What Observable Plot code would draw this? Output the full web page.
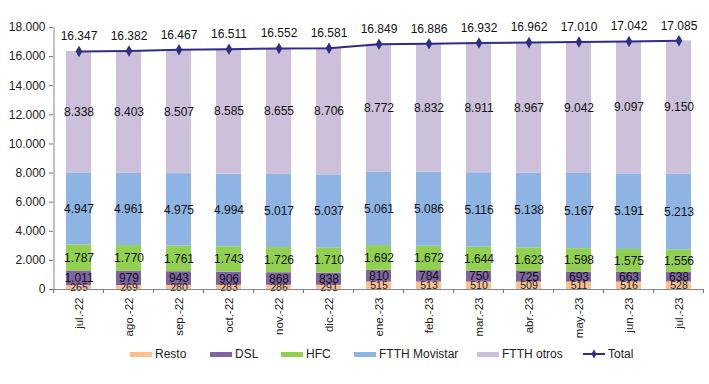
<!DOCTYPE html>
<html><head><meta charset="utf-8">
<script src="https://cdn.jsdelivr.net/npm/d3@7"></script>
<script src="https://cdn.jsdelivr.net/npm/@observablehq/plot@0.6"></script>
<style>
body{margin:0;background:#fff;font-family:"Liberation Sans",Arial,sans-serif;}
#legend{position:relative;font-size:12px;color:#222;height:18px;}
.item{position:absolute;top:0;display:flex;align-items:center;white-space:nowrap;height:18px;}
.sw{display:inline-block;width:22px;height:5px;margin-right:3px;}
</style></head>
<body>
<div id="chart"></div>
<div id="legend"></div>
<script>
const months = ["jul.-22","ago.-22","sep.-22","oct.-22","nov.-22","dic.-22","ene.-23","feb.-23","mar.-23","abr.-23","may.-23","jun.-23","jul.-23"];
const seriesNames = ["Resto","DSL","HFC","FTTH Movistar","FTTH otros"];
const resto = [265,269,280,283,286,291,515,513,510,509,511,516,528];
const dsl = [1011,979,943,906,868,838,810,784,750,725,693,663,638];
const hfc = [1787,1770,1761,1743,1726,1710,1692,1672,1644,1623,1598,1575,1556];
const ftthMovistar = [4947,4961,4975,4994,5017,5037,5061,5086,5116,5138,5167,5191,5213];
const ftthOtros = [8338,8403,8507,8585,8655,8706,8772,8832,8911,8967,9042,9097,9150];
const total = [16347,16382,16467,16511,16552,16581,16849,16886,16932,16962,17010,17042,17085];
const yTicks = [0,2000,4000,6000,8000,10000,12000,14000,16000,18000];
const colors = ["#FAC090","#8064A2","#92D050","#8DB4E2","#CCC0DA"];
const totalColor = "#2E2E85";

const fmt = d3.formatLocale({decimal:",",thousands:".",grouping:[3],currency:["","€"]}).format(",d");
const seriesValues = [resto, dsl, hfc, ftthMovistar, ftthOtros];
const rows = [];
seriesNames.forEach((s, si) => months.forEach((m, i) => rows.push({month: m, series: s, value: seriesValues[si][i]})));
const totals = months.map((m, i) => ({month: m, value: total[i]}));

const W = 709, H = 345, ML = 53, MR = 6, MT = 27, MB = 56;
const plot = Plot.plot({
  width: W, height: H,
  marginLeft: ML, marginRight: MR, marginTop: MT, marginBottom: MB,
  style: {fontFamily: '"Liberation Sans", Arial, sans-serif', fontSize: "11px", color: "#222", background: "#fff"},
  x: {domain: months, paddingInner: 0.5, paddingOuter: 0.25, label: null},
  y: {domain: [0, 18000], label: null},
  color: {domain: seriesNames, range: colors},
  marks: [
    Plot.barY(rows, {x: "month", y: "value", fill: "series", z: "series"}),
    Plot.text(rows, Plot.stackY({x: "month", y: "value", z: "series", text: d => d.series === "Resto" ? null : fmt(d.value), fontSize: 12, fill: "#111"})),
    Plot.text(rows, Plot.stackY({x: "month", y: "value", z: "series", text: d => d.series === "Resto" ? fmt(d.value) : null, fontSize: 10.5, fill: "#222"})),
    Plot.axisY({ticks: yTicks, tickFormat: fmt, tickSize: 4, tickPadding: 4, fontSize: 12, stroke: "#777", fill: "#222"}),
    Plot.ruleX([0], {x: () => months[0], dx: -25, y1: 0, y2: 18000, stroke: "#888"}),
    Plot.ruleY([0], {stroke: "#888"}),
    Plot.axisX({tickSize: 0, tickRotate: -90, tickPadding: 8, fontSize: 11.5, fill: "#222"}),
    Plot.line(totals, {x: "month", y: "value", stroke: totalColor, strokeWidth: 2}),
    Plot.dot(totals, {x: "month", y: "value", symbol: "diamond", r: 3.5, fill: totalColor, stroke: "none"}),
    Plot.text(totals, {x: "month", y: "value", text: d => fmt(d.value), dy: -15, fontSize: 12, fill: "#111"})
  ]
});
document.getElementById("chart").appendChild(plot);

const ys = plot.scale("y"), xs = plot.scale("x");
const svg = d3.select(plot);
// band-edge ticks on the x axis
const tg = svg.append("g").attr("stroke", "#777");
months.concat([null]).forEach((m, i) => {
  const x0 = xs.apply(months[0]) - (xs.step - xs.bandwidth) / 2 + i * xs.step;
  tg.append("line").attr("x1", x0).attr("x2", x0).attr("y1", ys.apply(0)).attr("y2", ys.apply(0) + 4);
});

// legend
const leg = d3.select("#legend");
const items = seriesNames.map((s, i) => ({name: s, color: colors[i], type: "sw"})).concat([{name: "Total", color: totalColor, type: "line"}]);
const lefts = [130, 210, 281, 354, 477, 583];
items.forEach((it, i) => {
  const d = leg.append("div").attr("class", "item").style("left", lefts[i] + "px");
  if (it.type === "sw") d.append("span").attr("class", "sw").style("background", it.color);
  else {
    const s = d.append("svg").attr("width", 22).attr("height", 10).style("margin-right", "3px");
    s.append("line").attr("x1", 0).attr("x2", 22).attr("y1", 5).attr("y2", 5).attr("stroke", it.color).attr("stroke-width", 2);
    s.append("path").attr("d", d3.symbol(d3.symbolDiamond, 24)()).attr("transform", "translate(11,5)").attr("fill", it.color);
  }
  d.append("span").text(it.name);
});
</script>
</body></html>
